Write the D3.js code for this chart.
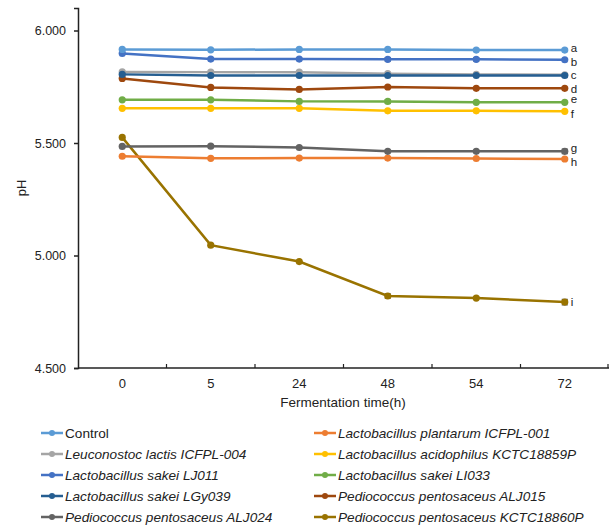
<!DOCTYPE html>
<html>
<head>
<meta charset="utf-8">
<script src="https://cdn.jsdelivr.net/npm/d3@7"></script>
<style>
  body { margin: 0; background: #fff; }
  svg text { font-family: "Liberation Sans", Arial, sans-serif; fill: #222; }
</style>
</head>
<body>
<div id="wrapper"></div>
<script>
const width = 610,
    height = 526,
    margin = {top: 8, right: 1, bottom: 158, left: 78};

const TIMES = ['0', '5', '24', '48', '54', '72'];
const Y_TICKS = [4.5, 5.0, 5.5, 6.0];

const NAMES = ['Control', 'Lactobacillus plantarum ICFPL-001', 'Leuconostoc lactis ICFPL-004',
    'Lactobacillus acidophilus KCTC18859P', 'Lactobacillus sakei LJ011', 'Lactobacillus sakei LI033',
    'Lactobacillus sakei LGy039', 'Pediococcus pentosaceus ALJ015', 'Pediococcus pentosaceus ALJ024',
    'Pediococcus pentosaceus KCTC18860P'];
const COLORS = ['#5b9bd5', '#ed7d31', '#a5a5a5', '#ffc000', '#4472c4', '#70ad47',
    '#255e91', '#9e480e', '#636363', '#997300'];
const LETTERS = ['a', 'h', '', 'f', 'b', 'e', 'c', 'd', 'g', 'i'];

// pH values per series, in NAMES order
const VALUES = [
    [5.916, 5.914, 5.916, 5.916, 5.913, 5.913],
    [5.441, 5.432, 5.433, 5.433, 5.431, 5.429],
    [5.816, 5.815, 5.815, 5.808, 5.805, 5.803],
    [5.654, 5.654, 5.654, 5.643, 5.643, 5.641],
    [5.898, 5.873, 5.873, 5.872, 5.872, 5.870],
    [5.692, 5.692, 5.685, 5.685, 5.681, 5.681],
    [5.805, 5.800, 5.800, 5.800, 5.800, 5.800],
    [5.787, 5.747, 5.738, 5.749, 5.743, 5.743],
    [5.485, 5.486, 5.480, 5.463, 5.463, 5.463],
    [5.525, 5.046, 4.973, 4.820, 4.811, 4.793]
];
// standard deviations (small)
const ERRORS = [
    [0.002, 0.002, 0.002, 0.002, 0.002, 0.002],
    [0.002, 0.002, 0.002, 0.002, 0.002, 0.002],
    [0.002, 0.002, 0.002, 0.002, 0.002, 0.002],
    [0.002, 0.002, 0.002, 0.002, 0.002, 0.002],
    [0.003, 0.003, 0.003, 0.008, 0.008, 0.004],
    [0.002, 0.002, 0.002, 0.008, 0.002, 0.002],
    [0.002, 0.002, 0.002, 0.002, 0.002, 0.006],
    [0.002, 0.002, 0.002, 0.002, 0.002, 0.002],
    [0.002, 0.002, 0.002, 0.002, 0.002, 0.010],
    [0.002, 0.002, 0.002, 0.010, 0.004, 0.012]
];

const svg = d3.select('#wrapper').append('svg')
    .attr('width', width).attr('height', height);

const x = d3.scaleBand().domain(TIMES)
    .range([margin.left, width - margin.right]);
const y = d3.scaleLinear().domain([4.5, 6.1])
    .range([height - margin.bottom, margin.top]);

// y axis
const yAxis = svg.append('g')
    .attr('transform', `translate(${margin.left},0)`)
    .call(d3.axisLeft(y).tickValues(Y_TICKS).tickFormat(d3.format('.3f')).tickSizeOuter(0).tickSize(4));
yAxis.selectAll('text').style('font-size', '12.5px').attr('x', -12);
yAxis.selectAll('path, line').attr('stroke', '#222').attr('stroke-width', 1.5);

// x axis: labels at band centres, tick marks at band edges pointing up
const xAxis = svg.append('g')
    .attr('transform', `translate(0,${y(4.5)})`);
xAxis.append('line')
    .attr('x1', margin.left).attr('x2', width - margin.right)
    .attr('stroke', '#222').attr('stroke-width', 1.5);
xAxis.selectAll('.tk').data(TIMES.slice(1).concat(['end']))
    .join('line')
    .attr('x1', (d, i) => i < TIMES.length - 1 ? x(d) : width - margin.right - 1)
    .attr('x2', (d, i) => i < TIMES.length - 1 ? x(d) : width - margin.right - 1)
    .attr('y1', 0).attr('y2', -4)
    .attr('stroke', '#222').attr('stroke-width', 1.2);
xAxis.selectAll('.lbl').data(TIMES)
    .join('text')
    .attr('x', d => x(d) + x.bandwidth() / 2)
    .attr('y', 20)
    .attr('text-anchor', 'middle')
    .style('font-size', '13px')
    .text(d => d);

svg.append('text')
    .attr('x', 343)
    .attr('y', 407)
    .attr('text-anchor', 'middle')
    .style('font-size', '13.5px')
    .text('Fermentation time(h)');

svg.append('text')
    .attr('transform', `translate(26,${(y(4.5) + y(6.1)) / 2}) rotate(-90)`)
    .attr('text-anchor', 'middle')
    .style('font-size', '13px')
    .text('pH');

const cx = t => x(t) + x.bandwidth() / 2;
const line = d3.line().x((d, i) => cx(TIMES[i])).y(d => y(d));

// draw series (back to front so Control ends on top)
const order = [9, 1, 8, 3, 5, 7, 2, 6, 4, 0];
order.forEach(s => {
    const g = svg.append('g');
    g.append('path')
        .attr('d', line(VALUES[s]))
        .attr('fill', 'none')
        .attr('stroke', COLORS[s])
        .attr('stroke-width', 2.5);
    VALUES[s].forEach((v, i) => {
        const e = ERRORS[s][i];
        const px = cx(TIMES[i]);
        if (e > 0.004) {
            g.append('path')
                .attr('d', `M${px - 3},${y(v + e)}H${px + 3}M${px},${y(v + e)}V${y(v - e)}M${px - 3},${y(v - e)}H${px + 3}`)
                .attr('stroke', '#555').attr('stroke-width', 1.2).attr('fill', 'none');
        }
        g.append('circle')
            .attr('cx', px).attr('cy', y(v)).attr('r', 3.6)
            .attr('fill', COLORS[s]);
    });
});

// significance letters (nudged apart a little where they crowd)
const letterOffsets = {a: -2, b: 2, c: -0.5, d: 0.5, e: -3, f: 3, g: -3, h: 3, i: 0};
NAMES.forEach((n, s) => {
    const L = LETTERS[s];
    if (!L) return;
    svg.append('text')
        .attr('x', cx('72') + 6)
        .attr('y', y(VALUES[s][5]) + letterOffsets[L])
        .attr('dy', '0.35em')
        .style('font-size', '11.5px')
        .text(L);
});

// legend
const legend = svg.append('g');
NAMES.forEach((n, s) => {
    const col = s % 2, row = Math.floor(s / 2);
    const lx = col === 0 ? 41 : 314;
    const ly = 433 + row * 21;
    legend.append('line')
        .attr('x1', lx).attr('x2', lx + 22)
        .attr('y1', ly).attr('y2', ly)
        .attr('stroke', COLORS[s]).attr('stroke-width', 2.5);
    legend.append('circle')
        .attr('cx', lx + 11).attr('cy', ly).attr('r', 3)
        .attr('fill', COLORS[s]);
    legend.append('text')
        .attr('x', lx + 24).attr('y', ly)
        .attr('dy', '0.35em')
        .style('font-size', '13.6px')
        .style('font-style', s === 0 ? 'normal' : 'italic')
        .text(n);
});
</script>
</body>
</html>
